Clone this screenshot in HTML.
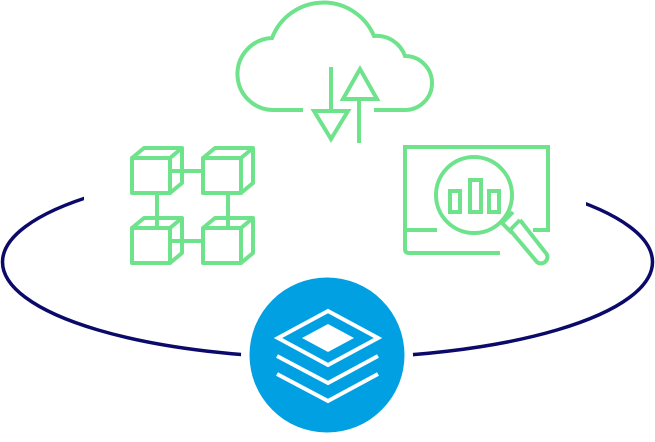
<!DOCTYPE html>
<html><head><style>html,body{margin:0;padding:0;background:#fff}svg{display:block}</style></head><body>
<svg width="655" height="442" viewBox="0 0 655 442" xmlns="http://www.w3.org/2000/svg">
<ellipse cx="327.5" cy="262" rx="325" ry="96" fill="none" stroke="#0b0a6a" stroke-width="3.5"/>
<rect x="84" y="140" width="502" height="75" fill="#fff"/>
<circle cx="327" cy="355" r="86" fill="#fff"/>
<circle cx="327" cy="355" r="77.5" fill="#00a0e2"/>
<g fill="none" stroke="#fff" stroke-width="4" stroke-linejoin="miter">
<polygon points="278,338 328,311 378,338 328,365"/>
<polyline points="277,356 328,383 378,356"/>
<polyline points="277,374 328,401 378,374"/>
</g>
<polygon points="302,338 328,324 354,338 328,352" fill="#fff"/>
<g fill="none" stroke="#6ee38c" stroke-width="4">
<path d="M303,110 L275,110 A35,35 0 0 1 272,38 A55,55 0 0 1 374,36 A30,30 0 0 1 405,56 A27,27 0 0 1 405,110 L374,110"/>
<line x1="331" y1="67" x2="331" y2="112"/>
<polygon points="314,111 348,111 331,139"/>
<line x1="359" y1="143" x2="359" y2="99"/>
<polygon points="343,99 377,99 360,69"/>
<g stroke-linejoin="round">
<g id="c"><rect x="132" y="158" width="38" height="35"/><polyline points="132,158 144,148 182,148 182,183 170,193"/><line x1="170" y1="158" x2="182" y2="148"/></g>
<use href="#c" x="71"/><use href="#c" y="70"/><use href="#c" x="71" y="70"/>
</g>
<line x1="170" y1="171" x2="203" y2="171"/>
<line x1="170" y1="241" x2="203" y2="241"/>
<line x1="157" y1="193" x2="157" y2="228"/>
<line x1="228" y1="193" x2="228" y2="228"/>
<path d="M437,230 L405,230 L405,147 L548,147 L548,230 L533,230 M405,230 L405,249 Q405,253 409,253 L500,253"/>
<circle cx="474" cy="195" r="38"/>
<rect x="450" y="191" width="10" height="21"/><rect x="470" y="180" width="11" height="32"/><rect x="489" y="191" width="10" height="21"/>
<path d="M501,222 L512,233 M510,230 L520,220 M503,222 L513,212 M520,220 L545,252 A6,6 0 0 1 537,262 L510,230"/>
</g>
</svg>
</body></html>
